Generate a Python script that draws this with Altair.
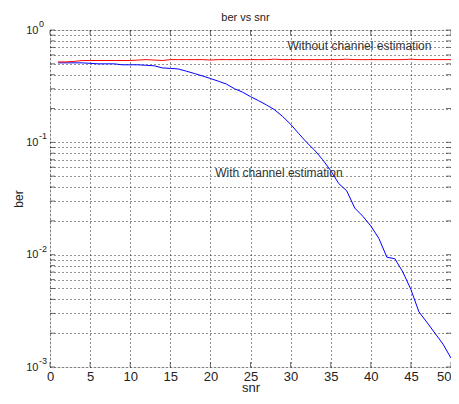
import altair as alt
import pandas as pd

snr = list(range(1, 51))
ber_with = [0.51, 0.51, 0.51, 0.51, 0.505, 0.50, 0.50, 0.50, 0.49, 0.49,
            0.49, 0.485, 0.48, 0.46, 0.455, 0.45, 0.43, 0.41, 0.39, 0.37,
            0.35, 0.33, 0.30, 0.28, 0.255, 0.235, 0.215, 0.195, 0.17, 0.145,
            0.12, 0.10, 0.085, 0.07, 0.056, 0.043, 0.037, 0.026, 0.022, 0.018,
            0.014, 0.0095, 0.0092, 0.007, 0.0049, 0.0031, 0.0025, 0.002, 0.0016, 0.0012]
ber_without = [0.52, 0.52, 0.525, 0.535, 0.535, 0.535, 0.535, 0.535, 0.535, 0.535,
               0.54, 0.545, 0.54, 0.535, 0.545, 0.545, 0.545, 0.545, 0.545, 0.54,
               0.545, 0.545, 0.545, 0.545, 0.545, 0.545, 0.545, 0.55, 0.545, 0.545,
               0.545, 0.545, 0.545, 0.545, 0.545, 0.545, 0.55, 0.545, 0.545, 0.545,
               0.545, 0.545, 0.545, 0.545, 0.55, 0.545, 0.545, 0.545, 0.545, 0.545]
series_names = ["With channel estimation", "Without channel estimation"]
series_colors = ["#0000ff", "#ff0000"]

x_ticks = [0, 5, 10, 15, 20, 25, 30, 35, 40, 45, 50]
y_grid = [k * 10.0 ** e for e in (-3, -2, -1) for k in range(1, 10)] + [1.0]
y_major = [1.0, 0.1, 0.01, 0.001]
y_exp = ["0", "-1", "-2", "-3"]

ann_text = ["Without channel estimation", "With channel estimation"]
ann_x = [29.6, 20.6]
ann_y = [0.72, 0.053]

df = pd.DataFrame({
    "snr": snr * 2,
    "ber": ber_with + ber_without,
    "series": [series_names[0]] * len(snr) + [series_names[1]] * len(snr),
})
ann = pd.DataFrame({"text": ann_text, "snr": ann_x, "ber": ann_y})
exps = pd.DataFrame({"snr": [0] * len(y_major), "ber": y_major, "e": y_exp})
xt = pd.DataFrame({"snr": x_ticks})
yt = pd.DataFrame({"ber": y_grid})

W, H = 401, 337
FONT = "Liberation Sans"
TXT = "#222"

label_expr = ("abs(datum.value-1)<1e-9 || abs(datum.value-0.1)<1e-9 || "
              "abs(datum.value-0.01)<1e-9 || abs(datum.value-0.001)<1e-9 ? '10' : ''")

xscale = alt.Scale(domain=[0, 50], nice=False)
yscale = alt.Scale(type="log", domain=[0.001, 1], nice=False)

x_axis = alt.Axis(values=x_ticks, title="snr", grid=True, ticks=False, domain=False,
                  labelPadding=3, labelFontSize=13, labelFont=FONT, labelColor=TXT,
                  labelAlign={"expr": "datum.value == 50 ? 'right' : 'center'"},
                  titleFontSize=13, titleFont=FONT, titleFontWeight="normal",
                  titleColor=TXT, titleBaseline="alphabetic", titlePadding=8,
                  gridColor="#000", gridDash=[1, 3], gridOpacity=0.85,
                  labelOverlap=False)
y_axis = alt.Axis(values=y_grid, labelExpr=label_expr, title="ber", grid=True,
                  ticks=False, domain=False, labelPadding=12, labelFontSize=11,
                  labelFont=FONT, labelColor=TXT, labelFlush=False,
                  titleFontSize=12, titleFont=FONT, titleFontWeight="normal",
                  titleColor=TXT, titleBaseline="alphabetic", titlePadding=3,
                  gridColor="#000", gridDash=[1, 3], gridOpacity=0.85,
                  labelOverlap=False)

X = alt.X("snr:Q", scale=xscale, axis=x_axis)
Y = alt.Y("ber:Q", scale=yscale, axis=y_axis)

lines = alt.Chart(df).mark_line(strokeWidth=1, clip=True).encode(
    x=X, y=Y,
    color=alt.Color("series:N", scale=alt.Scale(domain=series_names, range=series_colors),
                    legend=None),
    detail="series:N",
)

texts = alt.Chart(ann).mark_text(align="left", baseline="middle", fontSize=12,
                                 font=FONT, color="#333").encode(x=X, y=Y, text="text:N")

exp_text = alt.Chart(exps).mark_text(align="left", baseline="middle", fontSize=9,
                                     font=FONT, color=TXT, dy=-6).encode(
    x=alt.value(-11), y=Y, text="e:N")

tick_style = dict(thickness=1, color="#333", size=5)
xticks_b = alt.Chart(xt).mark_tick(orient="vertical", **tick_style).encode(
    x=X, y=alt.value(H - 2.5))
xticks_t = alt.Chart(xt).mark_tick(orient="vertical", **tick_style).encode(
    x=X, y=alt.value(2.5))
yticks_l = alt.Chart(yt).mark_tick(orient="horizontal", **tick_style).encode(
    y=Y, x=alt.value(2.5))
yticks_r = alt.Chart(yt).mark_tick(orient="horizontal", **tick_style).encode(
    y=Y, x=alt.value(W - 2.5))

chart = alt.layer(lines, texts, exp_text, xticks_b, xticks_t, yticks_l, yticks_r).properties(
    width=W, height=H,
    title=alt.TitleParams("ber vs snr", fontSize=11, font=FONT, fontWeight="normal",
                          color=TXT, offset=8, anchor="middle", dx=-5, dy=11,
                          frame="group"),
    autosize=alt.AutoSizeParams(type="none"),
    padding={"left": 42, "top": 22, "right": 0, "bottom": 25},
).configure_view(stroke="#555", strokeWidth=1).configure(background="white")

chart.save("out.html", embed_options={"renderer": "svg", "actions": False})
